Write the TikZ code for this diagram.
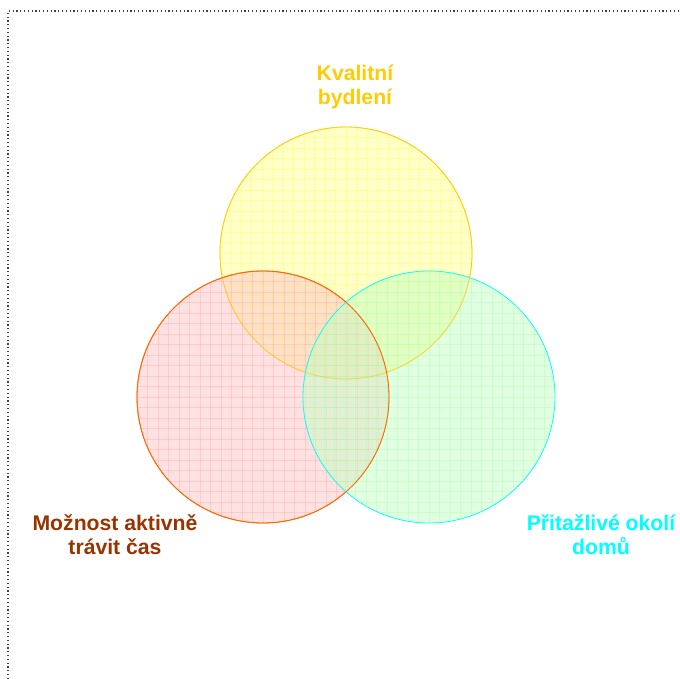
\documentclass[tikz,border=0pt]{standalone}
\usepackage{fontspec}
\setmainfont{Liberation Sans}
\definecolor{ylwline}{HTML}{FFCC00}
\definecolor{redline}{HTML}{FF6600}
\definecolor{cyanline}{HTML}{00FFFF}
\definecolor{ylwfill}{HTML}{FFFF90}
\definecolor{redfill}{HTML}{FFC4C4}
\definecolor{grnfill}{HTML}{C4FFC4}
\definecolor{ylwgrid}{HTML}{FFFF44}
\definecolor{redgrid}{HTML}{FF9999}
\definecolor{grngrid}{HTML}{99FF99}
\definecolor{redtext}{HTML}{993300}
\tikzset{
  lbl/.style={font=\fontsize{21.2}{24}\selectfont\bfseries, align=center},
  ring/.style={circle, minimum size=252pt, inner sep=0pt, line width=0.8pt, fill opacity=0.5},
  gridln/.style={line width=0.6pt, opacity=0.32},
}
\newcommand{\circgrid}[3]{% cx, cy, color
  \begin{scope}
    \clip (#1,#2) circle (126);
    \foreach \k in {-12,...,12} {
      \draw[gridln, #3] ({#1+10.5*\k},{#2-130}) -- ({#1+10.5*\k},{#2+130});
      \draw[gridln, #3] ({#1-130},{#2+10.5*\k}) -- ({#1+130},{#2+10.5*\k});
    }
  \end{scope}}
\begin{document}
\begin{tikzpicture}[x=1pt,y=-1pt]
\useasboundingbox (0,0) rectangle (680,679);
\draw[line width=1.2pt, black!75, dash pattern=on 1.2pt off 2.6pt] (8,679) -- (8,11) -- (680,11);
% circles
\node[ring, fill=ylwfill, draw=ylwline] (Y) at (346,253) {};
\circgrid{346}{253}{ylwgrid}
\node[ring, fill=redfill, draw=redline] (R) at (263,397) {};
\circgrid{263}{397}{redgrid}
\node[ring, fill=grnfill, draw=cyanline] (G) at (429,397) {};
\circgrid{429}{397}{grngrid}
\draw[ylwline, line width=0.8pt, opacity=0.5] (346,253) circle (126);
\draw[redline, line width=0.8pt] (263,397) circle (126);
% labels
\node[lbl, text=ylwline] (tY) at (355,87) {Kvalitní\\bydlení};
\node[lbl, text=redtext] (tR) at (115,535) {Možnost aktivně\\trávit čas};
\node[lbl, text=cyanline] (tG) at (601,535) {Přitažlivé okolí\\domů};
\end{tikzpicture}
\end{document}
